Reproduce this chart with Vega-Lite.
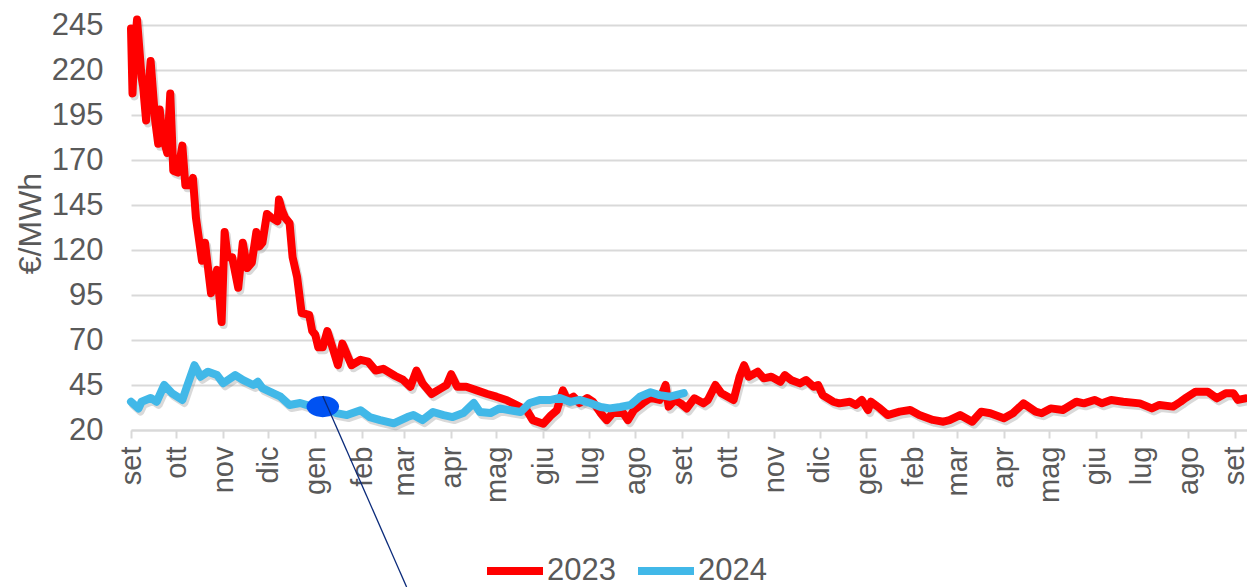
{
  "$schema": "https://vega.github.io/schema/vega-lite/v6.json",
  "width": 1116,
  "height": 414,
  "autosize": {"type": "none"},
  "padding": {"left": 131, "top": 16, "right": 0, "bottom": 157},
  "background": "white",
  "config": {"view": {"stroke": null}, "font": "Liberation Sans"},
  "datasets": {
    "prices": [
      {"date": "2022-09-01", "value": 243, "serie": "2023"},
      {"date": "2022-09-02", "value": 207, "serie": "2023"},
      {"date": "2022-09-03", "value": 228, "serie": "2023"},
      {"date": "2022-09-05", "value": 248, "serie": "2023"},
      {"date": "2022-09-08", "value": 216, "serie": "2023"},
      {"date": "2022-09-09", "value": 211, "serie": "2023"},
      {"date": "2022-09-11", "value": 192, "serie": "2023"},
      {"date": "2022-09-14", "value": 225, "serie": "2023"},
      {"date": "2022-09-17", "value": 192, "serie": "2023"},
      {"date": "2022-09-19", "value": 179, "serie": "2023"},
      {"date": "2022-09-20", "value": 198, "serie": "2023"},
      {"date": "2022-09-22", "value": 183, "serie": "2023"},
      {"date": "2022-09-25", "value": 174, "serie": "2023"},
      {"date": "2022-09-27", "value": 207, "serie": "2023"},
      {"date": "2022-09-29", "value": 164, "serie": "2023"},
      {"date": "2022-10-02", "value": 163, "serie": "2023"},
      {"date": "2022-10-05", "value": 178, "serie": "2023"},
      {"date": "2022-10-07", "value": 156, "serie": "2023"},
      {"date": "2022-10-10", "value": 156, "serie": "2023"},
      {"date": "2022-10-12", "value": 160, "serie": "2023"},
      {"date": "2022-10-14", "value": 138, "serie": "2023"},
      {"date": "2022-10-18", "value": 114, "serie": "2023"},
      {"date": "2022-10-20", "value": 124, "serie": "2023"},
      {"date": "2022-10-24", "value": 96, "serie": "2023"},
      {"date": "2022-10-28", "value": 109, "serie": "2023"},
      {"date": "2022-10-31", "value": 80, "serie": "2023"},
      {"date": "2022-11-02", "value": 130, "serie": "2023"},
      {"date": "2022-11-04", "value": 116, "serie": "2023"},
      {"date": "2022-11-07", "value": 116, "serie": "2023"},
      {"date": "2022-11-11", "value": 99, "serie": "2023"},
      {"date": "2022-11-14", "value": 124, "serie": "2023"},
      {"date": "2022-11-17", "value": 110, "serie": "2023"},
      {"date": "2022-11-20", "value": 113, "serie": "2023"},
      {"date": "2022-11-23", "value": 130, "serie": "2023"},
      {"date": "2022-11-25", "value": 122, "serie": "2023"},
      {"date": "2022-11-27", "value": 124, "serie": "2023"},
      {"date": "2022-11-30", "value": 140, "serie": "2023"},
      {"date": "2022-12-03", "value": 138, "serie": "2023"},
      {"date": "2022-12-07", "value": 136, "serie": "2023"},
      {"date": "2022-12-08", "value": 148, "serie": "2023"},
      {"date": "2022-12-10", "value": 142, "serie": "2023"},
      {"date": "2022-12-12", "value": 138, "serie": "2023"},
      {"date": "2022-12-15", "value": 135, "serie": "2023"},
      {"date": "2022-12-17", "value": 116, "serie": "2023"},
      {"date": "2022-12-20", "value": 105, "serie": "2023"},
      {"date": "2022-12-23", "value": 85, "serie": "2023"},
      {"date": "2022-12-28", "value": 84, "serie": "2023"},
      {"date": "2022-12-30", "value": 75, "serie": "2023"},
      {"date": "2023-01-01", "value": 73, "serie": "2023"},
      {"date": "2023-01-03", "value": 66, "serie": "2023"},
      {"date": "2023-01-06", "value": 66, "serie": "2023"},
      {"date": "2023-01-09", "value": 75, "serie": "2023"},
      {"date": "2023-01-12", "value": 67, "serie": "2023"},
      {"date": "2023-01-16", "value": 56, "serie": "2023"},
      {"date": "2023-01-19", "value": 68, "serie": "2023"},
      {"date": "2023-01-25", "value": 56, "serie": "2023"},
      {"date": "2023-01-31", "value": 59, "serie": "2023"},
      {"date": "2023-02-05", "value": 58, "serie": "2023"},
      {"date": "2023-02-10", "value": 53, "serie": "2023"},
      {"date": "2023-02-15", "value": 54, "serie": "2023"},
      {"date": "2023-02-23", "value": 50, "serie": "2023"},
      {"date": "2023-02-28", "value": 48, "serie": "2023"},
      {"date": "2023-03-05", "value": 44, "serie": "2023"},
      {"date": "2023-03-09", "value": 53, "serie": "2023"},
      {"date": "2023-03-13", "value": 46, "serie": "2023"},
      {"date": "2023-03-19", "value": 40, "serie": "2023"},
      {"date": "2023-03-25", "value": 43, "serie": "2023"},
      {"date": "2023-03-29", "value": 45, "serie": "2023"},
      {"date": "2023-04-01", "value": 51, "serie": "2023"},
      {"date": "2023-04-05", "value": 44, "serie": "2023"},
      {"date": "2023-04-11", "value": 44, "serie": "2023"},
      {"date": "2023-04-18", "value": 42, "serie": "2023"},
      {"date": "2023-04-25", "value": 40, "serie": "2023"},
      {"date": "2023-05-01", "value": 38.5, "serie": "2023"},
      {"date": "2023-05-08", "value": 36.5, "serie": "2023"},
      {"date": "2023-05-14", "value": 34, "serie": "2023"},
      {"date": "2023-05-21", "value": 31, "serie": "2023"},
      {"date": "2023-05-25", "value": 25.5, "serie": "2023"},
      {"date": "2023-06-01", "value": 23.5, "serie": "2023"},
      {"date": "2023-06-06", "value": 28, "serie": "2023"},
      {"date": "2023-06-10", "value": 31, "serie": "2023"},
      {"date": "2023-06-14", "value": 42, "serie": "2023"},
      {"date": "2023-06-17", "value": 36.5, "serie": "2023"},
      {"date": "2023-06-21", "value": 38.5, "serie": "2023"},
      {"date": "2023-06-25", "value": 35, "serie": "2023"},
      {"date": "2023-06-30", "value": 37.8, "serie": "2023"},
      {"date": "2023-07-04", "value": 35.6, "serie": "2023"},
      {"date": "2023-07-09", "value": 29.4, "serie": "2023"},
      {"date": "2023-07-13", "value": 25.5, "serie": "2023"},
      {"date": "2023-07-17", "value": 29.4, "serie": "2023"},
      {"date": "2023-07-24", "value": 29.4, "serie": "2023"},
      {"date": "2023-07-27", "value": 25.5, "serie": "2023"},
      {"date": "2023-07-31", "value": 31, "serie": "2023"},
      {"date": "2023-08-06", "value": 35, "serie": "2023"},
      {"date": "2023-08-11", "value": 37.8, "serie": "2023"},
      {"date": "2023-08-17", "value": 36.7, "serie": "2023"},
      {"date": "2023-08-21", "value": 45, "serie": "2023"},
      {"date": "2023-08-23", "value": 33, "serie": "2023"},
      {"date": "2023-08-27", "value": 36.7, "serie": "2023"},
      {"date": "2023-08-31", "value": 34.8, "serie": "2023"},
      {"date": "2023-09-04", "value": 32, "serie": "2023"},
      {"date": "2023-09-09", "value": 37.6, "serie": "2023"},
      {"date": "2023-09-15", "value": 34.8, "serie": "2023"},
      {"date": "2023-09-18", "value": 36.7, "serie": "2023"},
      {"date": "2023-09-23", "value": 45, "serie": "2023"},
      {"date": "2023-09-27", "value": 40.4, "serie": "2023"},
      {"date": "2023-10-05", "value": 36.7, "serie": "2023"},
      {"date": "2023-10-09", "value": 49.6, "serie": "2023"},
      {"date": "2023-10-12", "value": 56, "serie": "2023"},
      {"date": "2023-10-15", "value": 49.6, "serie": "2023"},
      {"date": "2023-10-21", "value": 52.4, "serie": "2023"},
      {"date": "2023-10-25", "value": 48.7, "serie": "2023"},
      {"date": "2023-10-30", "value": 49.6, "serie": "2023"},
      {"date": "2023-11-05", "value": 46.8, "serie": "2023"},
      {"date": "2023-11-08", "value": 50.5, "serie": "2023"},
      {"date": "2023-11-12", "value": 47.8, "serie": "2023"},
      {"date": "2023-11-18", "value": 45.9, "serie": "2023"},
      {"date": "2023-11-22", "value": 47.8, "serie": "2023"},
      {"date": "2023-11-27", "value": 44, "serie": "2023"},
      {"date": "2023-11-30", "value": 45, "serie": "2023"},
      {"date": "2023-12-03", "value": 39.4, "serie": "2023"},
      {"date": "2023-12-10", "value": 35.7, "serie": "2023"},
      {"date": "2023-12-14", "value": 34.8, "serie": "2023"},
      {"date": "2023-12-21", "value": 35.7, "serie": "2023"},
      {"date": "2023-12-25", "value": 33.9, "serie": "2023"},
      {"date": "2023-12-29", "value": 36.7, "serie": "2023"},
      {"date": "2024-01-02", "value": 31.1, "serie": "2023"},
      {"date": "2024-01-04", "value": 35.7, "serie": "2023"},
      {"date": "2024-01-10", "value": 32, "serie": "2023"},
      {"date": "2024-01-15", "value": 28.3, "serie": "2023"},
      {"date": "2024-01-23", "value": 30.2, "serie": "2023"},
      {"date": "2024-01-30", "value": 31.1, "serie": "2023"},
      {"date": "2024-02-05", "value": 28.3, "serie": "2023"},
      {"date": "2024-02-14", "value": 25.6, "serie": "2023"},
      {"date": "2024-02-21", "value": 24.6, "serie": "2023"},
      {"date": "2024-02-25", "value": 25.5, "serie": "2023"},
      {"date": "2024-03-03", "value": 28.3, "serie": "2023"},
      {"date": "2024-03-11", "value": 24.6, "serie": "2023"},
      {"date": "2024-03-17", "value": 30.2, "serie": "2023"},
      {"date": "2024-03-23", "value": 29.3, "serie": "2023"},
      {"date": "2024-04-01", "value": 26.5, "serie": "2023"},
      {"date": "2024-04-07", "value": 29.3, "serie": "2023"},
      {"date": "2024-04-14", "value": 34.8, "serie": "2023"},
      {"date": "2024-04-22", "value": 30.2, "serie": "2023"},
      {"date": "2024-04-26", "value": 29.3, "serie": "2023"},
      {"date": "2024-05-02", "value": 32, "serie": "2023"},
      {"date": "2024-05-10", "value": 31.1, "serie": "2023"},
      {"date": "2024-05-19", "value": 35.7, "serie": "2023"},
      {"date": "2024-05-24", "value": 34.8, "serie": "2023"},
      {"date": "2024-05-31", "value": 36.7, "serie": "2023"},
      {"date": "2024-06-05", "value": 34.8, "serie": "2023"},
      {"date": "2024-06-11", "value": 36.7, "serie": "2023"},
      {"date": "2024-06-19", "value": 35.7, "serie": "2023"},
      {"date": "2024-06-30", "value": 34.8, "serie": "2023"},
      {"date": "2024-07-08", "value": 32, "serie": "2023"},
      {"date": "2024-07-13", "value": 33.9, "serie": "2023"},
      {"date": "2024-07-22", "value": 33, "serie": "2023"},
      {"date": "2024-07-27", "value": 35.7, "serie": "2023"},
      {"date": "2024-07-30", "value": 37.6, "serie": "2023"},
      {"date": "2024-08-06", "value": 41.3, "serie": "2023"},
      {"date": "2024-08-14", "value": 41.3, "serie": "2023"},
      {"date": "2024-08-20", "value": 37.6, "serie": "2023"},
      {"date": "2024-08-26", "value": 40.4, "serie": "2023"},
      {"date": "2024-08-31", "value": 40.4, "serie": "2023"},
      {"date": "2024-09-03", "value": 36.7, "serie": "2023"},
      {"date": "2024-09-08", "value": 37.6, "serie": "2023"},
      {"date": "2022-09-01", "value": 35.7, "serie": "2024"},
      {"date": "2022-09-06", "value": 32, "serie": "2024"},
      {"date": "2022-09-08", "value": 35.7, "serie": "2024"},
      {"date": "2022-09-14", "value": 37.8, "serie": "2024"},
      {"date": "2022-09-18", "value": 35.7, "serie": "2024"},
      {"date": "2022-09-23", "value": 45, "serie": "2024"},
      {"date": "2022-09-28", "value": 40.5, "serie": "2024"},
      {"date": "2022-10-05", "value": 36.7, "serie": "2024"},
      {"date": "2022-10-08", "value": 44, "serie": "2024"},
      {"date": "2022-10-13", "value": 56, "serie": "2024"},
      {"date": "2022-10-17", "value": 49.6, "serie": "2024"},
      {"date": "2022-10-22", "value": 52.4, "serie": "2024"},
      {"date": "2022-10-28", "value": 50.5, "serie": "2024"},
      {"date": "2022-11-01", "value": 46, "serie": "2024"},
      {"date": "2022-11-09", "value": 50.5, "serie": "2024"},
      {"date": "2022-11-14", "value": 47.8, "serie": "2024"},
      {"date": "2022-11-21", "value": 45, "serie": "2024"},
      {"date": "2022-11-24", "value": 46.8, "serie": "2024"},
      {"date": "2022-11-27", "value": 43.3, "serie": "2024"},
      {"date": "2022-12-04", "value": 40.5, "serie": "2024"},
      {"date": "2022-12-09", "value": 38.5, "serie": "2024"},
      {"date": "2022-12-15", "value": 33.9, "serie": "2024"},
      {"date": "2022-12-22", "value": 35, "serie": "2024"},
      {"date": "2022-12-26", "value": 34, "serie": "2024"},
      {"date": "2022-12-29", "value": 33, "serie": "2024"},
      {"date": "2023-01-06", "value": 32.8, "serie": "2024"},
      {"date": "2023-01-15", "value": 29.4, "serie": "2024"},
      {"date": "2023-01-22", "value": 28.3, "serie": "2024"},
      {"date": "2023-01-31", "value": 31, "serie": "2024"},
      {"date": "2023-02-06", "value": 27.2, "serie": "2024"},
      {"date": "2023-02-13", "value": 25.5, "serie": "2024"},
      {"date": "2023-02-22", "value": 23.7, "serie": "2024"},
      {"date": "2023-03-03", "value": 27.2, "serie": "2024"},
      {"date": "2023-03-07", "value": 28.3, "serie": "2024"},
      {"date": "2023-03-13", "value": 25.5, "serie": "2024"},
      {"date": "2023-03-20", "value": 30, "serie": "2024"},
      {"date": "2023-03-27", "value": 28.3, "serie": "2024"},
      {"date": "2023-04-02", "value": 27.2, "serie": "2024"},
      {"date": "2023-04-09", "value": 29.4, "serie": "2024"},
      {"date": "2023-04-16", "value": 35, "serie": "2024"},
      {"date": "2023-04-20", "value": 30, "serie": "2024"},
      {"date": "2023-04-27", "value": 29.4, "serie": "2024"},
      {"date": "2023-05-03", "value": 32, "serie": "2024"},
      {"date": "2023-05-10", "value": 31, "serie": "2024"},
      {"date": "2023-05-17", "value": 30, "serie": "2024"},
      {"date": "2023-05-23", "value": 35, "serie": "2024"},
      {"date": "2023-05-30", "value": 36.7, "serie": "2024"},
      {"date": "2023-06-06", "value": 36.7, "serie": "2024"},
      {"date": "2023-06-12", "value": 37.8, "serie": "2024"},
      {"date": "2023-06-19", "value": 35.6, "serie": "2024"},
      {"date": "2023-06-25", "value": 36.7, "serie": "2024"},
      {"date": "2023-07-02", "value": 35, "serie": "2024"},
      {"date": "2023-07-09", "value": 32.8, "serie": "2024"},
      {"date": "2023-07-15", "value": 32, "serie": "2024"},
      {"date": "2023-07-22", "value": 32.8, "serie": "2024"},
      {"date": "2023-07-29", "value": 34, "serie": "2024"},
      {"date": "2023-08-04", "value": 38.5, "serie": "2024"},
      {"date": "2023-08-11", "value": 41, "serie": "2024"},
      {"date": "2023-08-17", "value": 39.4, "serie": "2024"},
      {"date": "2023-08-24", "value": 38.5, "serie": "2024"},
      {"date": "2023-09-02", "value": 40.5, "serie": "2024"}
    ]
  },
  "encoding": {
    "x": {
      "field": "date",
      "type": "temporal",
      "scale": {
        "type": "utc",
        "domain": [
          {"year": 2022, "month": 9, "date": 1, "utc": true},
          {"year": 2024, "month": 9, "date": 9, "utc": true}
        ]
      },
      "axis": {
        "title": null,
        "grid": false,
        "tickCount": {"interval": "month", "step": 1},
        "labelExpr": "['gen','feb','mar','apr','mag','giu','lug','ago','set','ott','nov','dic'][utcmonth(datum.value)]",
        "labelAngle": 270,
        "labelFontSize": 29,
        "labelColor": "#595959",
        "labelPadding": 8,
        "labelOverlap": false,
        "labelFlush": false,
        "labelBound": false,
        "tickSize": 8,
        "tickColor": "#D9D9D9",
        "tickWidth": 2,
        "domainColor": "#D9D9D9",
        "domainWidth": 2
      }
    },
    "y": {
      "field": "value",
      "type": "quantitative",
      "scale": {"domain": [20, 250], "nice": false, "zero": false},
      "axis": {
        "values": [20, 45, 70, 95, 120, 145, 170, 195, 220, 245],
        "title": "€/MWh",
        "titleFontSize": 32,
        "titleFontWeight": "normal",
        "titleColor": "#595959",
        "titlePadding": 4,
        "labelFontSize": 31,
        "labelColor": "#595959",
        "labelPadding": 28,
        "ticks": false,
        "domain": false,
        "gridColor": "#D9D9D9",
        "gridWidth": 2
      }
    }
  },
  "layer": [
    {
      "data": {"name": "prices"},
      "mark": {"type": "line", "strokeWidth": 8, "color": "#808080", "opacity": 0.3, "xOffset": 2, "yOffset": 3, "strokeJoin": "round", "strokeCap": "round"},
      "encoding": {"detail": {"field": "serie", "type": "nominal"}}
    },
    {
      "data": {"name": "prices"},
      "transform": [{"filter": "datum.serie === '2023'"}],
      "mark": {"type": "line", "strokeWidth": 8, "strokeJoin": "round", "strokeCap": "round"},
      "encoding": {
        "color": {
          "field": "serie",
          "type": "nominal",
          "scale": {"domain": ["2023", "2024"], "range": ["#FF0000", "#41B8E8"]},
          "legend": {
            "orient": "none",
            "legendX": 352,
            "legendY": 523,
            "direction": "horizontal",
            "title": null,
            "symbolType": "stroke",
            "symbolStrokeWidth": 8,
            "symbolSize": 3136,
            "labelFontSize": 31,
            "labelColor": "#595959",
            "labelOffset": 0,
            "columnPadding": 6,
            "padding": 0
          }
        }
      }
    },
    {
      "data": {"name": "prices"},
      "transform": [{"filter": "datum.serie === '2024'"}],
      "mark": {"type": "line", "strokeWidth": 8, "strokeJoin": "round", "strokeCap": "round"},
      "encoding": {
        "color": {"field": "serie", "type": "nominal"}
      }
    },
    {
      "data": {"values": [{"date": "2023-01-06", "value": 33}]},
      "mark": {"type": "point", "filled": true, "opacity": 1, "color": "#0052F2", "size": 1060, "shape": "M -1 0 A 1 0.65 0 1 0 1 0 A 1 0.65 0 1 0 -1 0 Z"}
    },
    {
      "data": {"values": [{"date": "2023-01-06", "value": 38.9, "date2": "2023-03-02T12:00:00Z", "value2": -67.2}]},
      "mark": {"type": "rule", "color": "#0A2A7A", "strokeWidth": 1.3},
      "encoding": {
        "x2": {"field": "date2"},
        "y2": {"field": "value2"}
      }
    }
  ]
}
